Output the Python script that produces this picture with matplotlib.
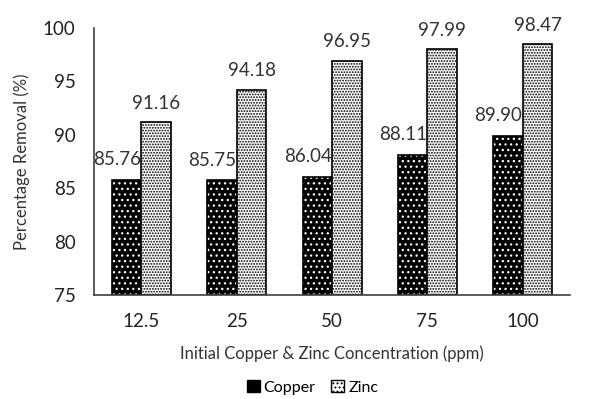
import matplotlib.pyplot as plt
import numpy as np
from matplotlib.patches import Patch

plt.rcParams['font.family'] = ['Lato', 'DejaVu Sans']

conc = ['12.5', '25', '50', '75', '100']
copper = [85.76, 85.75, 86.04, 88.11, 89.90]
zinc = [91.16, 94.18, 96.95, 97.99, 98.47]

x = np.arange(len(conc))
w = 0.31

fig, ax = plt.subplots(figsize=(5.93, 3.99), dpi=100)
fig.subplots_adjust(left=0.158, right=0.962, top=0.93, bottom=0.26)

# copper: black fill, white dots
plt.rcParams['hatch.linewidth'] = 0.9
ax.bar(x - w/2, np.array(copper) - 75, w, bottom=75, color='black',
       edgecolor='white', hatch='...', linewidth=0)
ax.bar(x - w/2, np.array(copper) - 75, w, bottom=75, fill=False,
       edgecolor='black', linewidth=1.2)
# zinc: white fill, dense black dots
ax.bar(x + w/2, np.array(zinc) - 75, w, bottom=75, color='white',
       edgecolor='black', hatch='......', linewidth=0)
ax.bar(x + w/2, np.array(zinc) - 75, w, bottom=75, fill=False,
       edgecolor='black', linewidth=1.2)

for i in range(len(conc)):
    ax.text(x[i] - w/2 - 0.1, copper[i] + 1.1, f'{copper[i]:.2f}',
            ha='center', va='bottom', fontsize=13.5, color='#333333')
    ax.text(x[i] + w/2, zinc[i] + 1.0, f'{zinc[i]:.2f}',
            ha='center', va='bottom', fontsize=13.5, color='#333333')

ax.set_ylim(75, 100)
ax.set_yticks(range(75, 101, 5))
ax.set_xlim(-0.5, len(conc) - 0.5)
ax.set_xticks(x)
ax.set_xticklabels(conc)
ax.tick_params(length=0, labelsize=13.5, colors='#222222')
ax.tick_params(axis='x', pad=13)
ax.tick_params(axis='y', pad=13)
for s in ['top', 'right']:
    ax.spines[s].set_visible(False)
for s in ['left', 'bottom']:
    ax.spines[s].set_color('#404040')
    ax.spines[s].set_linewidth(1.2)

ax.set_xlabel('Initial Copper & Zinc Concentration (ppm)', fontsize=12,
              color='#333333', labelpad=11)
ax.set_ylabel('Percentage Removal (%)', fontsize=12, color='#333333',
              labelpad=9)

handles = [Patch(facecolor='black', edgecolor='black'),
           Patch(facecolor='white', edgecolor='black', hatch='....')]
fig.legend(handles, ['Copper', 'Zinc'], loc='lower center', ncol=2,
           frameon=False, fontsize=11.5, bbox_to_anchor=(0.527, -0.025),
           handlelength=0.8, handleheight=0.8, columnspacing=1.0,
           handletextpad=0.25)

plt.savefig('out.png', dpi=100)
